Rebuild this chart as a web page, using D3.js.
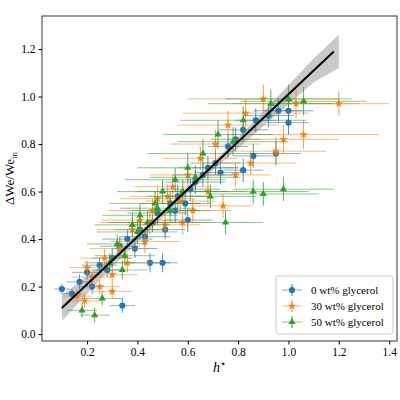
<!DOCTYPE html><html><head><script src="https://cdn.jsdelivr.net/npm/d3@7"></script>
<style>body{margin:0;background:#fff}text{font-family:"Liberation Serif","DejaVu Serif",serif}</style></head><body>
<svg id="c" width="400" height="400"></svg>
<script>
// [h*, dWe, xerr, yerr]
const series0 = [[0.1,0.19,0.03,0.02],[0.14,0.17,0.04,0.02],[0.17,0.22,0.05,0.03],[0.2,0.26,0.06,0.03],[0.22,0.2,0.05,0.03],[0.25,0.29,0.07,0.03],[0.28,0.27,0.06,0.03],[0.3,0.32,0.08,0.04],[0.34,0.12,0.05,0.03],[0.33,0.37,0.08,0.04],[0.36,0.4,0.1,0.04],[0.39,0.36,0.09,0.04],[0.41,0.44,0.1,0.04],[0.43,0.41,0.1,0.04],[0.46,0.47,0.1,0.04],[0.48,0.51,0.12,0.05],[0.51,0.44,0.08,0.04],[0.53,0.55,0.12,0.05],[0.56,0.58,0.12,0.05],[0.59,0.55,0.1,0.05],[0.61,0.61,0.12,0.05],[0.63,0.64,0.12,0.05],[0.66,0.67,0.12,0.05],[0.68,0.7,0.12,0.05],[0.71,0.72,0.1,0.05],[0.73,0.68,0.1,0.05],[0.76,0.79,0.08,0.05],[0.79,0.82,0.1,0.05],[0.82,0.86,0.1,0.05],[0.82,0.69,0.08,0.05],[0.86,0.75,0.08,0.05],[0.87,0.9,0.08,0.05],[0.92,0.92,0.1,0.05],[0.95,0.76,0.1,0.05],[0.96,0.94,0.1,0.05],[1.0,0.94,0.1,0.05],[1.0,0.89,0.08,0.05],[0.55,0.52,0.1,0.05],[0.45,0.3,0.08,0.04],[0.5,0.3,0.06,0.04],[0.6,0.48,0.1,0.05]];
const series1 = [[0.16,0.16,0.06,0.03],[0.19,0.14,0.07,0.03],[0.22,0.24,0.08,0.03],[0.25,0.2,0.08,0.03],[0.27,0.32,0.1,0.04],[0.3,0.25,0.1,0.04],[0.33,0.36,0.12,0.04],[0.36,0.3,0.12,0.04],[0.38,0.44,0.14,0.05],[0.41,0.48,0.15,0.05],[0.43,0.39,0.14,0.05],[0.46,0.52,0.18,0.05],[0.48,0.57,0.15,0.05],[0.51,0.46,0.14,0.05],[0.54,0.62,0.15,0.05],[0.57,0.56,0.14,0.05],[0.6,0.67,0.15,0.05],[0.62,0.52,0.15,0.05],[0.65,0.74,0.15,0.05],[0.68,0.6,0.15,0.05],[0.71,0.8,0.18,0.06],[0.74,0.54,0.12,0.05],[0.76,0.88,0.2,0.06],[0.79,0.67,0.14,0.05],[0.83,0.93,0.25,0.06],[0.85,0.72,0.18,0.05],[0.9,0.99,0.3,0.06],[0.95,0.77,0.2,0.06],[0.98,0.82,0.22,0.06],[1.03,0.97,0.25,0.06],[1.2,0.97,0.2,0.05],[1.06,0.84,0.3,0.06],[0.3,0.18,0.08,0.03],[0.2,0.28,0.07,0.03],[0.45,0.47,0.2,0.05],[0.52,0.58,0.15,0.05],[0.58,0.47,0.12,0.05]];
const series2 = [[0.18,0.1,0.06,0.03],[0.23,0.08,0.06,0.03],[0.26,0.15,0.08,0.03],[0.29,0.3,0.1,0.04],[0.32,0.38,0.12,0.04],[0.35,0.33,0.12,0.04],[0.38,0.46,0.15,0.05],[0.41,0.5,0.15,0.05],[0.44,0.47,0.16,0.05],[0.47,0.55,0.18,0.05],[0.5,0.6,0.18,0.05],[0.53,0.52,0.16,0.05],[0.55,0.65,0.2,0.05],[0.58,0.6,0.18,0.05],[0.6,0.7,0.2,0.06],[0.63,0.66,0.18,0.05],[0.66,0.76,0.22,0.06],[0.69,0.58,0.18,0.05],[0.72,0.84,0.22,0.06],[0.75,0.47,0.15,0.05],[0.78,0.81,0.22,0.06],[0.82,0.9,0.25,0.06],[0.86,0.6,0.22,0.05],[0.9,0.59,0.22,0.05],[0.93,0.97,0.25,0.06],[1.0,0.99,0.25,0.06],[1.06,0.98,0.25,0.06],[0.98,0.61,0.2,0.05],[0.4,0.43,0.16,0.05],[0.48,0.53,0.15,0.05],[0.34,0.27,0.1,0.04]];
const bandX = [0.1,0.3,0.5,0.6,0.7,0.9,1.1,1.2];
const bandLo = [0.055,0.285,0.49,0.595,0.69,0.875,1.06,1.12];
const bandHi = [0.165,0.325,0.52,0.615,0.72,0.935,1.16,1.26];
const fitX = [0.1,1.18];
const fitY = [0.11,1.19];
const xTicks = [0.2,0.4,0.6,0.8,1.0,1.2,1.4];
const yTicks = [0.0,0.2,0.4,0.6,0.8,1.0,1.2];
const labels = ["0 wt% glycerol","30 wt% glycerol","50 wt% glycerol"];
const colors = ["#1f77b4","#ff7f0e","#2ca02c"];

const svg=d3.select("#c");
const L=42,R=397,T=16,B=341;
const x=d3.scaleLinear().domain([0.021,1.431]).range([L,R]);
const y=d3.scaleLinear().domain([-0.029,1.339]).range([B,T]);
const area=d3.area().x((d,i)=>x(bandX[i])).y0((d,i)=>y(bandLo[i])).y1((d,i)=>y(bandHi[i]));
svg.append("path").datum(bandX).attr("d",area).attr("fill","#bbb").attr("opacity",0.8);
const syms=[d3.symbolCircle,d3.symbolStar,d3.symbolTriangle];
[series0,series1,series2].forEach((s,k)=>{
  const g=svg.append("g");
  s.forEach(d=>{
    g.append("line").attr("x1",x(d[0]-d[2])).attr("x2",x(d[0]+d[2])).attr("y1",y(d[1])).attr("y2",y(d[1])).attr("stroke",colors[k]).attr("stroke-opacity",0.55).attr("stroke-width",1);
    g.append("line").attr("x1",x(d[0])).attr("x2",x(d[0])).attr("y1",y(d[1]-d[3])).attr("y2",y(d[1]+d[3])).attr("stroke",colors[k]).attr("stroke-opacity",0.8).attr("stroke-width",1);
  });
  g.selectAll("path").data(s).join("path").attr("d",d3.symbol().type(syms[k]).size(k==0?30:22))
   .attr("transform",d=>`translate(${x(d[0])},${y(d[1])})`).attr("fill",colors[k]);
});
svg.append("line").attr("x1",x(fitX[0])).attr("y1",y(fitY[0])).attr("x2",x(fitX[1])).attr("y2",y(fitY[1])).attr("stroke","#000").attr("stroke-width",2);
const xa=svg.append("g").attr("transform",`translate(0,${B})`).call(d3.axisBottom(x).tickValues(xTicks).tickFormat(d3.format(".1f")).tickSizeOuter(0).tickSize(3.5));
const ya=svg.append("g").attr("transform",`translate(${L},0)`).call(d3.axisLeft(y).tickValues(yTicks).tickFormat(d3.format(".1f")).tickSizeOuter(0).tickSize(3.5));
[xa,ya].forEach(a=>{a.select(".domain").remove();a.selectAll("text").attr("font-size",11.5).attr("fill","#000").style("font-family","Liberation Serif");});
svg.append("rect").attr("x",L).attr("y",T).attr("width",R-L).attr("height",B-T).attr("fill","none").attr("stroke","#000").attr("stroke-width",0.8);
svg.append("text").attr("x",(L+R)/2).attr("y",372).attr("text-anchor","middle").attr("font-size",14).attr("font-style","italic").html('h<tspan dy="-5" font-size="10" font-style="normal">⋆</tspan>');
svg.append("text").attr("transform",`translate(14,${(T+B)/2}) rotate(-90)`).attr("text-anchor","middle").attr("font-size",13).html('ΔWe/We<tspan dy="3" font-size="9">in</tspan>');
const lg=svg.append("g");
lg.append("rect").attr("x",276).attr("y",276).attr("width",117).attr("height",58).attr("rx",3).attr("fill","#fff").attr("fill-opacity",0.85).attr("stroke","#ccc");
labels.forEach((t,k)=>{
  const yy=290+k*16;
  lg.append("line").attr("x1",282).attr("x2",302).attr("y1",yy).attr("y2",yy).attr("stroke",colors[k]).attr("stroke-opacity",0.6);
  lg.append("line").attr("x1",292).attr("x2",292).attr("y1",yy-6).attr("y2",yy+6).attr("stroke",colors[k]);
  lg.append("path").attr("d",d3.symbol().type(syms[k]).size(k==0?30:22)()).attr("transform",`translate(292,${yy})`).attr("fill",colors[k]);
  lg.append("text").attr("x",311).attr("y",yy+4).attr("font-size",11).text(t);
});
</script></body></html>
